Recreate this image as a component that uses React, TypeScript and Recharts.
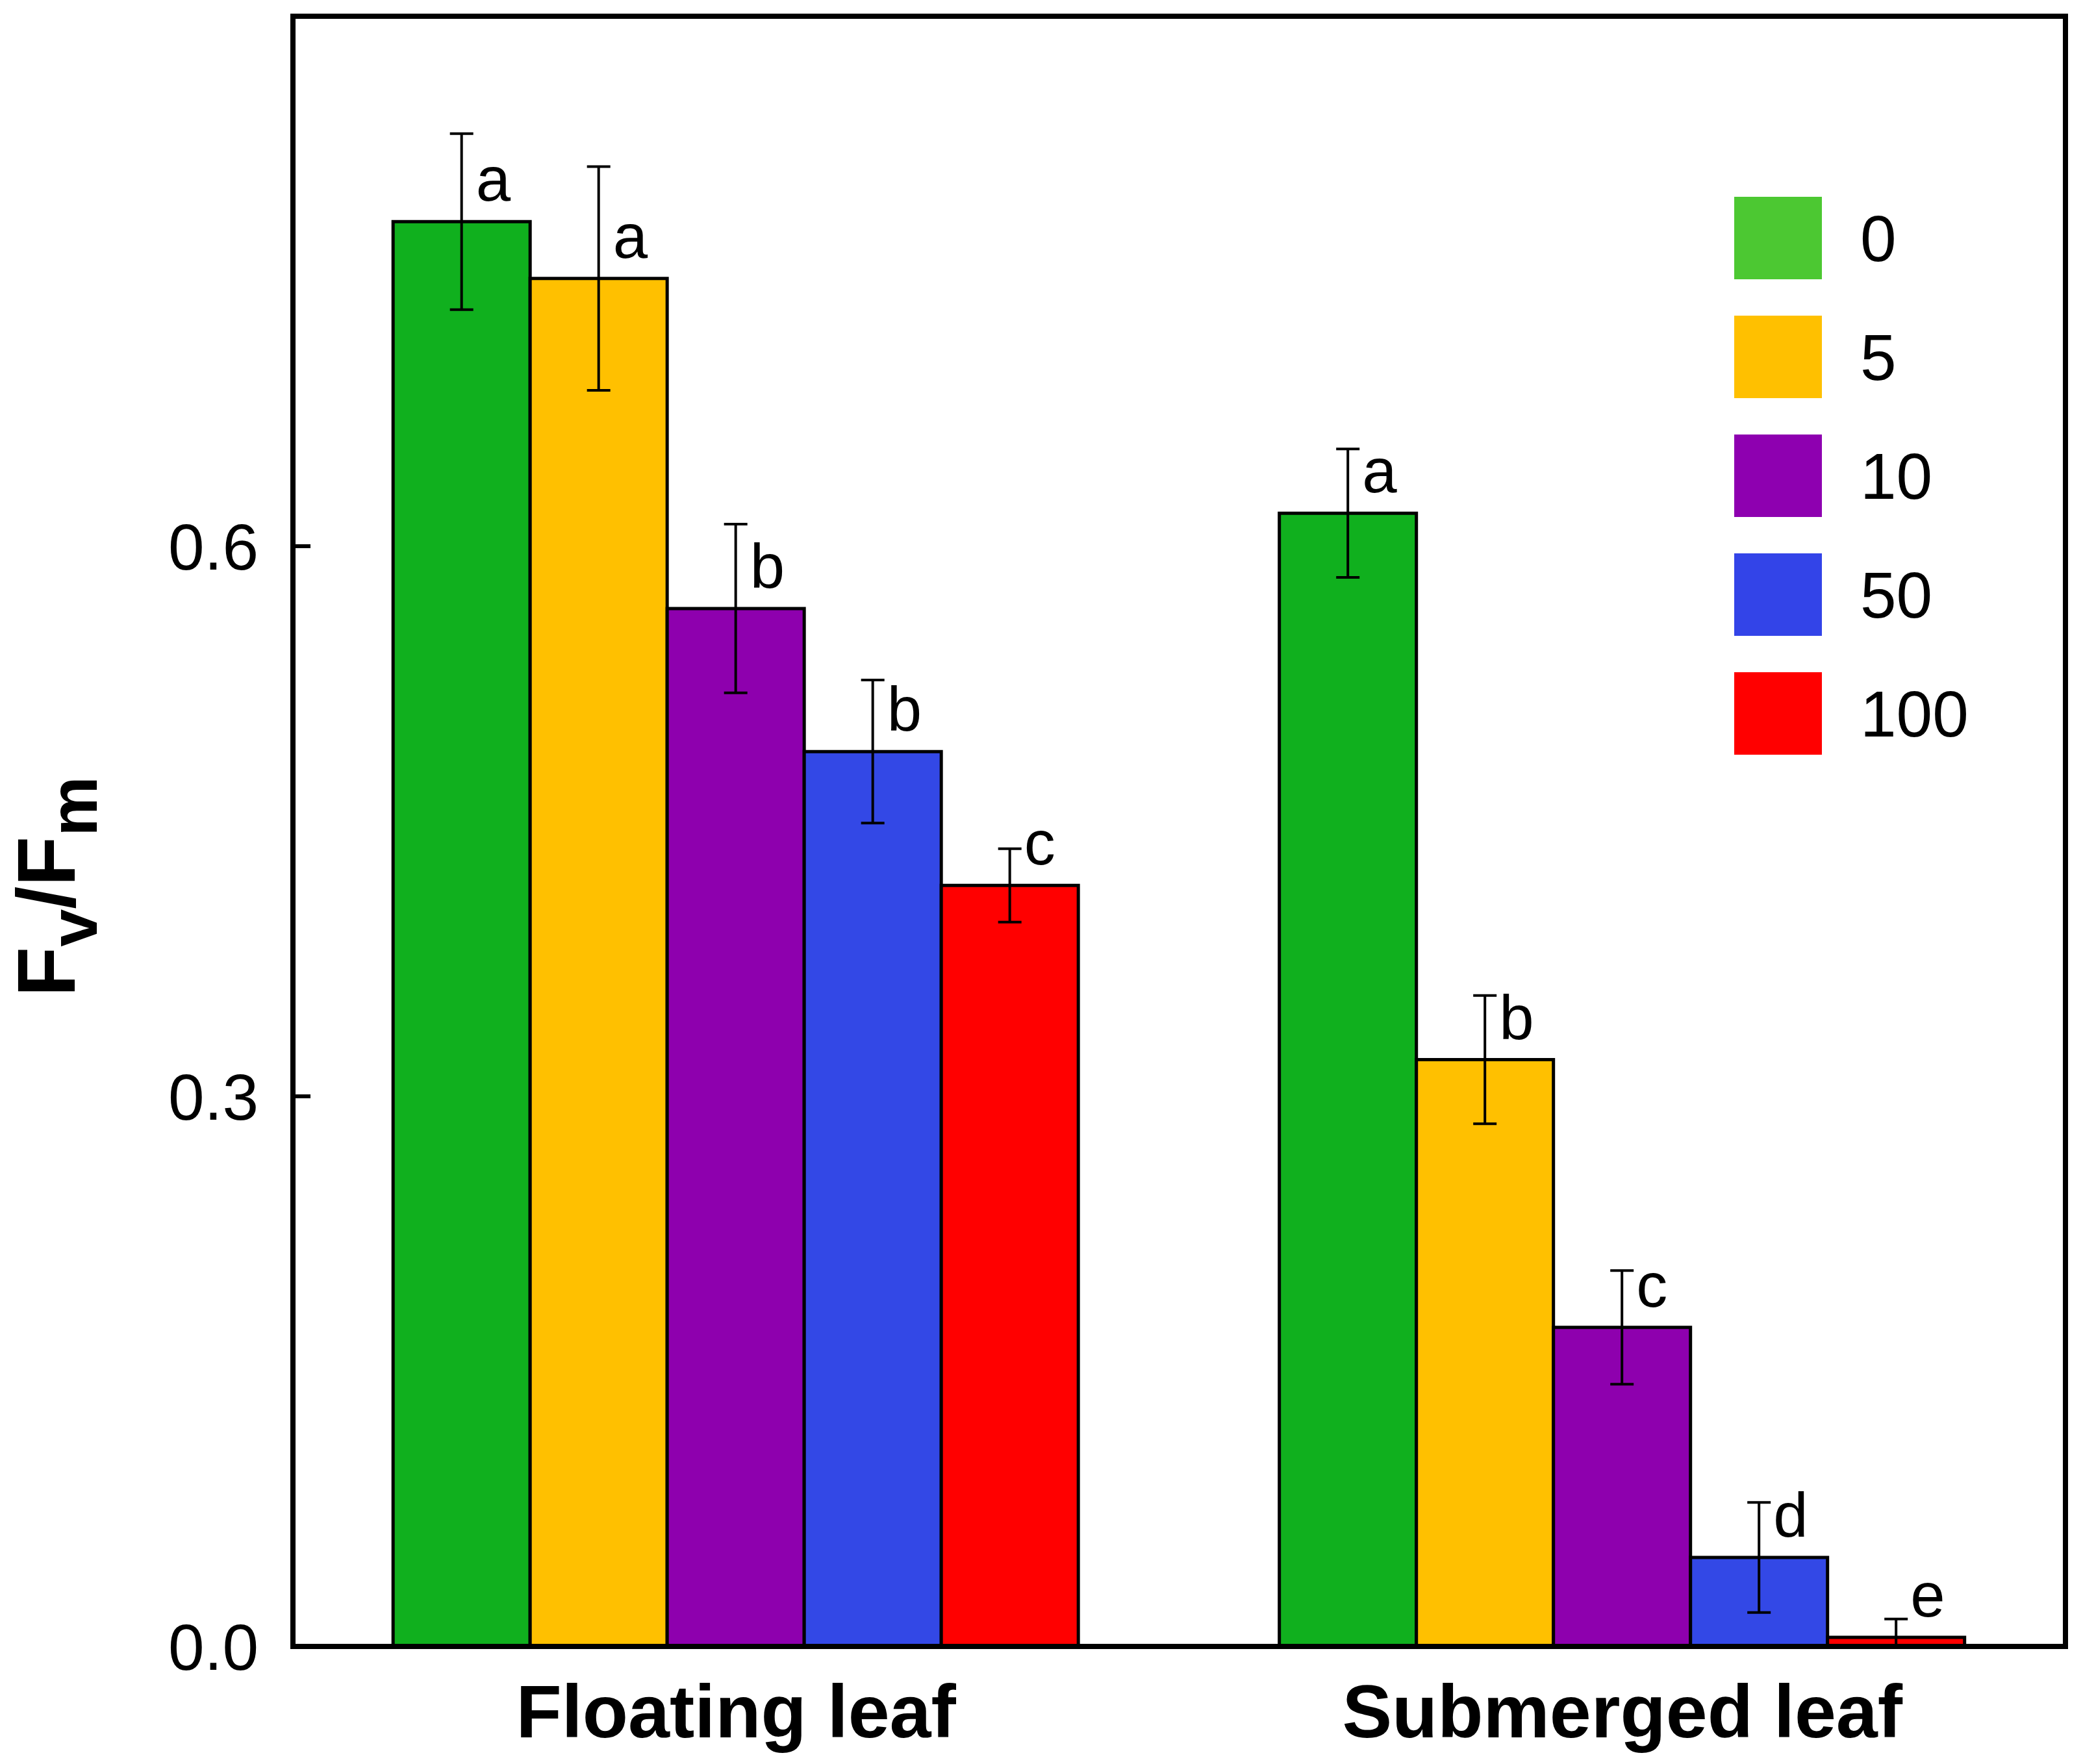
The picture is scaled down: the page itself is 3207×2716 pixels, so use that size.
import { BarChart, Bar, XAxis, YAxis, ErrorBar, LabelList, Legend, Label, ReferenceArea } from "recharts";

const categories = ["Floating leaf", "Submerged leaf"];
const doses = ["0", "5", "10", "50", "100"];

// Fv/Fm means, error bars and significance letters, one entry per dose
const floatingMeans = [0.777, 0.746, 0.566, 0.488, 0.415];
const floatingErrors = [0.048, 0.061, 0.046, 0.039, 0.02];
const floatingLetters = ["a", "a", "b", "b", "c"];

const submergedMeans = [0.618, 0.32, 0.174, 0.0485, 0.005];
const submergedErrors = [0.035, 0.035, 0.031, 0.03, 0.01];
const submergedLetters = ["a", "b", "c", "d", "e"];

const yTicks = [0, 0.3, 0.6];
const yMax = 0.889;

const barColors = ["#10B01E", "#FFC000", "#8E00AE", "#3348E6", "#FF0000"];
const legendColors = ["#4CC832", "#FFC000", "#8E00B0", "#3344E8", "#FF0000"];

const FONT = "'Liberation Sans', Arial, sans-serif";

const means = [floatingMeans, submergedMeans];
const errors = [floatingErrors, submergedErrors];
const letters = [floatingLetters, submergedLetters];

const data = categories.map((cat, c) => {
  const row: any = { cat };
  doses.forEach((_, i) => {
    row[`m${i}`] = means[c][i];
    // lower whisker stops at the axis
    row[`e${i}`] = [Math.min(errors[c][i], means[c][i]), errors[c][i]];
    row[`l${i}`] = letters[c][i];
  });
  return row;
});

const LetterLabel = (props: any) => {
  const vb = props.viewBox || {};
  const x = Number(props.x ?? vb.x);
  const y = Number(props.y ?? vb.y);
  const w = Number(props.width ?? vb.width);
  return (
    <text x={x + w / 2 + 22} y={y - 32} fontSize={96} fontFamily={FONT} fill="#000">
      {props.value}
    </text>
  );
};

const YTick = (props: any) => {
  const { x, y, payload } = props;
  return (
    <g>
      <text x={x} y={y} dy={36} textAnchor="end" fontSize={100} fontFamily={FONT} fill="#000">
        {Number(payload.value).toFixed(1)}
      </text>
      <line x1={x + 53} x2={x + 80} y1={y} y2={y} stroke="#000" strokeWidth={6} />
    </g>
  );
};

const XTick = (props: any) => {
  const { x, y, payload } = props;
  return (
    <text x={x} y={y + 140} textAnchor="middle" fontSize={115} fontWeight="bold" fontFamily={FONT} fill="#000">
      {payload.value}
    </text>
  );
};

const YLabel = () => (
  <text
    x={115}
    y={1365}
    transform="rotate(-90, 115, 1365)"
    textAnchor="middle"
    fontSize={126}
    fontWeight="bold"
    fontFamily={FONT}
    fill="#000"
  >
    F<tspan fontSize={104} dy={34}>v</tspan>
    <tspan dy={-34}>/F</tspan>
    <tspan fontSize={104} dy={34}>m</tspan>
  </text>
);

const LegendBox = (props: any) => {
  const items = [...(props.payload || [])].sort(
    (a: any, b: any) => doses.indexOf(a.value) - doses.indexOf(b.value)
  );
  return (
    <svg width={420} height={900}>
      {items.map((item: any, i: number) => (
        <g key={item.value}>
          <rect x={0} y={i * 183} width={135} height={127} fill={legendColors[doses.indexOf(item.value)]} />
          <text x={194} y={i * 183 + 63} dy={36} fontSize={100} fontFamily={FONT} fill="#000">
            {item.value}
          </text>
        </g>
      ))}
    </svg>
  );
};

export default function App() {
  return (
    <div style={{ position: "absolute", left: 0, top: 0, background: "#fff" }}>
      <BarChart
        width={3207}
        height={2716}
        data={data}
        margin={{ top: 25, right: 27, bottom: 0, left: 0 }}
        barCategoryGap="11.3%"
        barGap={0}
      >
        <XAxis
          dataKey="cat"
          height={181}
          axisLine={{ stroke: "#000", strokeWidth: 8 }}
          tickLine={false}
          tickSize={0}
          tickMargin={0}
          tick={<XTick />}
        />
        <YAxis
          width={451}
          domain={[0, yMax]}
          ticks={yTicks}
          allowDataOverflow
          axisLine={{ stroke: "#000", strokeWidth: 8 }}
          tickLine={false}
          tickSize={0}
          tickMargin={53}
          tick={<YTick />}
          label={<Label content={<YLabel />} />}
        />
        {/* plot frame */}
        <ReferenceArea
          x1={categories[0]}
          x2={categories[categories.length - 1]}
          y1={0}
          y2={yMax}
          fill="none"
          fillOpacity={0}
          stroke="#000"
          strokeWidth={8}
          strokeOpacity={1}
        />
        <Legend
          layout="vertical"
          align="center"
          verticalAlign="middle"
          content={<LegendBox />}
          wrapperStyle={{ position: "absolute", left: 2670, top: 303, width: 420, height: 900 }}
        />
        {doses.map((d, i) => (
          <Bar
            key={d}
            name={d}
            dataKey={`m${i}`}
            fill={barColors[i]}
            stroke="#000"
            strokeWidth={5}
            isAnimationActive={false}
          >
            <ErrorBar dataKey={`e${i}`} width={18} stroke="#000" strokeWidth={4} />
            <LabelList dataKey={`l${i}`} content={<LetterLabel />} />
          </Bar>
        ))}
      </BarChart>
    </div>
  );
}
